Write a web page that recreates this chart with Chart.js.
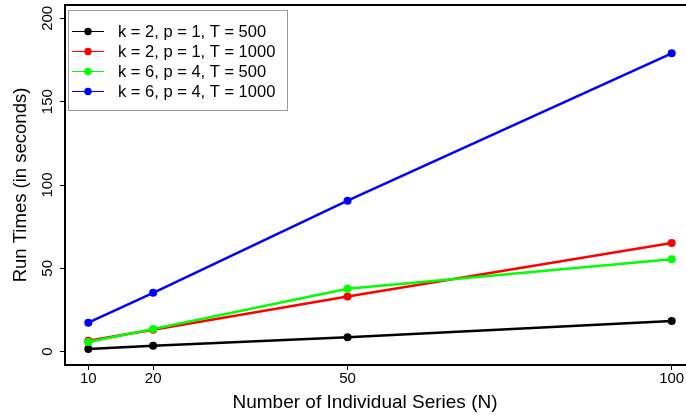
<!DOCTYPE html>
<html>
<head>
<meta charset="utf-8">
<script src="https://cdn.jsdelivr.net/npm/chart.js@4.4.1/dist/chart.umd.min.js"></script>
<style>
  html, body { margin: 0; padding: 0; background: #fff; overflow: hidden; }
  #wrap { width: 700px; height: 415px; }
</style>
</head>
<body>
<div id="wrap"><canvas id="runTimes"></canvas></div>
<script>
(function () {
  'use strict';

  // number of individual series (N)
  var nSeries = [10, 20, 50, 100];
  var xTicks = [10, 20, 50, 100];
  var yTicks = [0, 50, 100, 150, 200];

  // run times in seconds
  var k2p1T500 = [1.6, 3.6, 8.6, 18.4];
  var k2p1T1000 = [6.6, 13.2, 33.1, 65.2];
  var k6p4T500 = [5.8, 13.6, 37.7, 55.4];
  var k6p4T1000 = [17.4, 35.3, 90.6, 179];

  var seriesLabels = [
    'k = 2, p = 1, T = 500',
    'k = 2, p = 1, T = 1000',
    'k = 6, p = 4, T = 500',
    'k = 6, p = 4, T = 1000'
  ];
  var seriesColors = ['#000000', '#ff0000', '#00ff00', '#0000ff'];
  var seriesValues = [k2p1T500, k2p1T1000, k6p4T500, k6p4T1000];

  var FONT = '"Liberation Sans", Arial, Helvetica, sans-serif';

  function points(vals) {
    return vals.map(function (v, i) {
      return { x: nSeries[i], y: v };
    });
  }

  var datasets = seriesValues.map(function (vals, i) {
    return {
      label: seriesLabels[i],
      data: points(vals),
      borderColor: seriesColors[i],
      backgroundColor: seriesColors[i],
      borderWidth: 2.5,
      pointRadius: 4,
      pointBorderWidth: 0,
      pointHoverRadius: 4,
      order: seriesValues.length - i,
      tension: 0
    };
  });

  // box round the plot region
  var boxPlugin = {
    id: 'box',
    afterDraw: function (chart) {
      var a = chart.chartArea, ctx = chart.ctx;
      ctx.save();
      ctx.strokeStyle = '#000';
      ctx.lineWidth = 2;
      ctx.strokeRect(a.left, a.top, a.right - a.left, a.bottom - a.top);
      ctx.restore();
    }
  };

  // R style legend in the top left corner
  var legendPlugin = {
    id: 'rlegend',
    afterDraw: function (chart) {
      var ctx = chart.ctx;
      var a = chart.chartArea;
      var x0 = a.left + 3.5, y0 = a.top + 5.5;
      ctx.save();
      ctx.fillStyle = '#fff';
      ctx.fillRect(x0, y0, 219, 100);
      ctx.strokeStyle = '#9a9a9a';
      ctx.lineWidth = 1;
      ctx.strokeRect(x0, y0, 219, 100);
      ctx.font = '16.5px ' + FONT;
      ctx.textBaseline = 'middle';
      ctx.textAlign = 'left';
      chart.data.datasets.forEach(function (ds, i) {
        var y = y0 + 21 + i * 20;
        ctx.strokeStyle = ds.borderColor;
        ctx.beginPath();
        ctx.moveTo(x0 + 3.5, y);
        ctx.lineTo(x0 + 35.5, y);
        ctx.stroke();
        ctx.fillStyle = ds.borderColor;
        ctx.beginPath();
        ctx.arc(x0 + 19.5, y, 3.7, 0, Math.PI * 2);
        ctx.fill();
        ctx.fillStyle = '#000';
        ctx.fillText(ds.label, x0 + 49.5, y + 0.5);
      });
      ctx.restore();
    }
  };

  // x axis label, centred where the original has it
  var xTitlePlugin = {
    id: 'xtitle',
    afterDraw: function (chart) {
      var ctx = chart.ctx;
      ctx.save();
      ctx.font = '19px ' + FONT;
      ctx.fillStyle = '#000';
      ctx.textAlign = 'center';
      ctx.textBaseline = 'middle';
      ctx.fillText('Number of Individual Series (N)', 365, 403);
      ctx.restore();
    }
  };

  new Chart(document.getElementById('runTimes').getContext('2d'), {
    type: 'line',
    data: { datasets: datasets },
    options: {
      responsive: true,
      maintainAspectRatio: false,
      animation: false,
      devicePixelRatio: 1,
      layout: { padding: { top: 5, right: 5, bottom: 0, left: 0 } },
      plugins: {
        legend: { display: false },
        tooltip: { enabled: false }
      },
      scales: {
        x: {
          type: 'linear',
          min: 6.4,
          max: 103.6,
          afterBuildTicks: function (s) {
            s.ticks = xTicks.map(function (v) { return { value: v }; });
          },
          afterFit: function (s) {
            s.height = 50;
            s.paddingLeft = 0;
            s.paddingRight = 0;
          },
          grid: {
            drawOnChartArea: false,
            drawTicks: true,
            tickLength: 5,
            color: '#000',
            lineWidth: 1
          },
          border: { display: true, color: '#000', width: 2 },
          ticks: {
            font: { family: FONT, size: 15 },
            color: '#000',
            padding: 0,
            maxRotation: 0,
            autoSkip: false
          },
          title: { display: false }
        },
        y: {
          type: 'linear',
          min: -8,
          max: 208,
          afterBuildTicks: function (s) {
            s.ticks = yTicks.map(function (v) { return { value: v }; });
          },
          afterFit: function (s) {
            s.width = 65;
            s.paddingTop = 0;
            s.paddingBottom = 0;
          },
          grid: {
            drawOnChartArea: false,
            drawTicks: true,
            tickLength: 5,
            color: '#000',
            lineWidth: 1
          },
          border: { display: true, color: '#000', width: 2 },
          ticks: {
            font: { family: FONT, size: 15 },
            color: '#000',
            padding: 0,
            minRotation: 90,
            maxRotation: 90,
            crossAlign: 'center',
            autoSkip: false
          },
          title: {
            display: true,
            text: 'Run Times (in seconds)',
            font: { family: FONT, size: 18.5 },
            color: '#000',
            padding: { top: 9.5, bottom: 0 }
          }
        }
      }
    },
    plugins: [boxPlugin, legendPlugin, xTitlePlugin]
  });
})();
</script>
</body>
</html>
